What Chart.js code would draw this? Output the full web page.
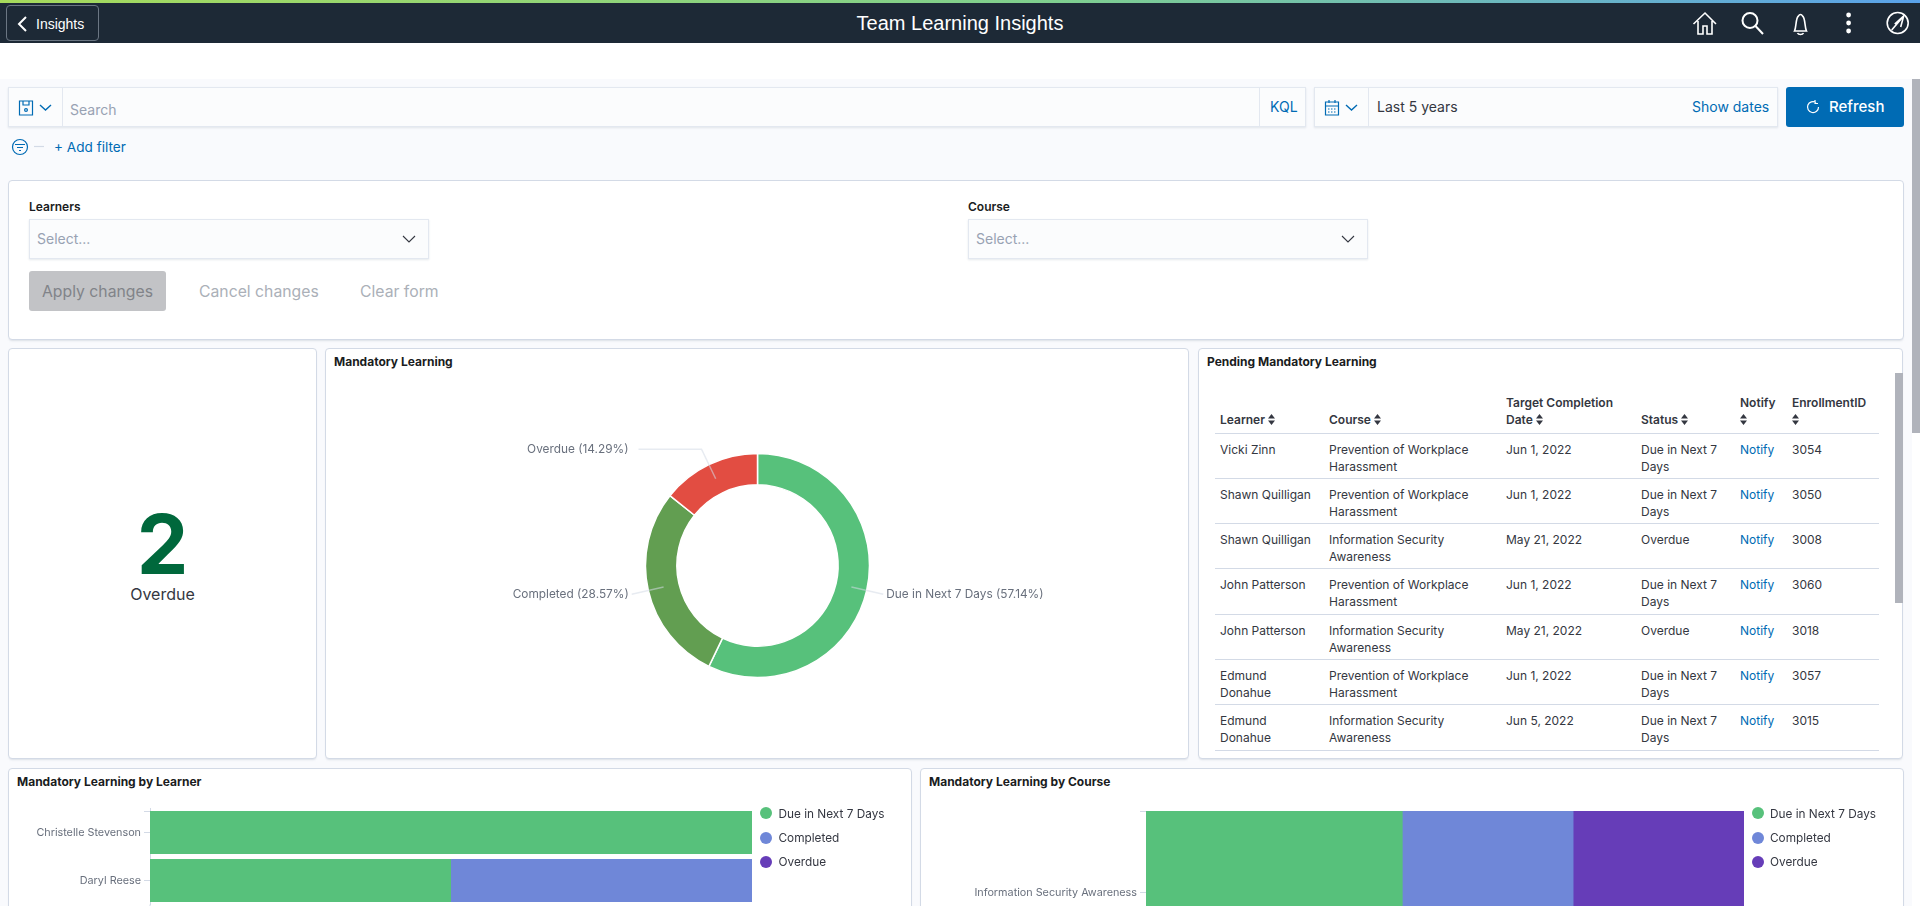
<!DOCTYPE html>
<html>
<head>
<meta charset="utf-8">
<title>Team Learning Insights</title>
<script src="https://cdn.jsdelivr.net/npm/chart.js@4/dist/chart.umd.min.js"></script>
<style>
  html, body { margin: 0; padding: 0; width: 1920px; height: 906px; overflow: hidden; background: #fff; }
  body { position: relative; font-family: Inter, "Noto Sans", sans-serif; color: #343741; font-size: 14px; }
  .abs { position: absolute; white-space: nowrap; }
  .box { position: absolute; box-sizing: border-box; }
  .panel { position: absolute; box-sizing: border-box; background: #fff; border: 1px solid #d3dae6; border-radius: 4px; box-shadow: 0 2px 2px -1px rgba(152,162,179,.3); }
  .field { position: absolute; box-sizing: border-box; background: #fbfcfd; border: 1px solid #e3e8f0; box-shadow: 0 1px 2px rgba(152,162,179,.25); }
  .title { position: absolute; font-size: 12px; font-weight: 700; color: #1a1c21; line-height: 16px; white-space: nowrap; }
  .ph { color: #98a2b3; }
  .link { color: #006bb4; }
  canvas { position: absolute; }
  #table { position: absolute; left: 1215px; top: 394px; width: 664px; border-collapse: collapse; table-layout: fixed; font-size: 12px; line-height: 17px; }
  #table th { text-align: left; font-weight: 600; vertical-align: bottom; padding: 0 8px 4.5px 5px; border-bottom: 1px solid #d3dae6; color: #343741; }
  #table td { vertical-align: top; padding: 7px 8px 3.3px 5px; border-bottom: 1px solid #d3dae6; color: #343741; }
  #table td.link { color: #006bb4; }
  .legend-dot { position: absolute; width: 12px; height: 12px; border-radius: 50%; }
  .legend-text { position: absolute; font-size: 11.8px; line-height: 16px; color: #343741; white-space: nowrap; }
</style>
</head>
<body>
<div class="box" style="left:0;top:79px;width:1912px;height:827px;background:#f9fafd"></div>
<div class="box" style="left:0;top:0;width:1920px;height:3px;background:linear-gradient(90deg,#a6da5c,#7fcf8f 55%,#5aa2ea)"></div>
<div class="box" style="left:0;top:3px;width:1920px;height:40px;background:#1d2936"></div>
<div class="box" style="left:6px;top:5px;width:93px;height:36px;border:1px solid #6b7683;border-radius:4px"></div>
<svg class="abs" style="left:17px;top:15px" width="12" height="18" viewBox="0 0 12 18"><path d="M9 2 L2 9 L9 16" fill="none" stroke="#fff" stroke-width="2"/></svg>
<div class="abs" style="left:36px;top:15px;font:14px 'Liberation Sans';color:#fff;line-height:18px">Insights</div>
<div class="abs" style="left:0;width:1920px;text-align:center;top:10px;font:20px 'Liberation Sans';color:#fff;line-height:26px">Team Learning Insights</div>
<svg class="abs" style="left:1690px;top:10px" width="230" height="30" viewBox="0 0 230 30" fill="none" stroke="#fff" stroke-width="1.6">
  <path d="M3.5 14 L15 3 L26 14 M8 11 V24 H13 V16 H17 V24 H22 V11"/>
  <circle cx="60" cy="10.5" r="7.5" stroke-width="2"/><path d="M65.5 16 L73 24" stroke-width="2"/>
  <path d="M104.5 21 C106.5 17 105.5 8 108.5 6 C109.5 4 111.5 4 112.5 6 C115.5 8 114.5 17 116.5 21 Z M107.5 23 C108.5 25 112.5 25 113.5 23"/>
  <circle cx="158.6" cy="5" r="2.4" fill="#fff" stroke="none"/><circle cx="158.6" cy="13" r="2.4" fill="#fff" stroke="none"/><circle cx="158.6" cy="21" r="2.4" fill="#fff" stroke="none"/>
  <circle cx="207.7" cy="13" r="10.5"/><path d="M201.7 20 L213.7 6 M204.7 14 L213.7 6 L210.7 17"/>
</svg>

<div class="box" style="left:1912px;top:79px;width:8px;height:354px;background:#b0b3bb"></div>

<!-- query bar -->
<div class="field" style="left:8px;top:87px;width:1298px;height:40px"></div>
<div class="box" style="left:62px;top:87px;width:1px;height:40px;background:#e3e8f0"></div>
<div class="box" style="left:1259px;top:87px;width:1px;height:40px;background:#e3e8f0"></div>
<svg class="abs" style="left:18px;top:99px" width="40" height="18" viewBox="0 0 40 18" fill="none" stroke="#006bb4" stroke-width="1.2">
  <path d="M1.5 2 H14.5 V16 H1.5 Z M5 2 V6 H11 V2"/><circle cx="8" cy="11" r="1.4"/><path d="M22 6 L27.5 11 L33 6" stroke-width="1.4"/>
</svg>
<div class="abs ph" style="left:70px;top:101px;line-height:18px">Search</div>
<div class="abs link" style="left:1270px;top:98px;line-height:18px">KQL</div>
<div class="field" style="left:1314px;top:87px;width:464px;height:40px"></div>
<div class="box" style="left:1368px;top:87px;width:1px;height:40px;background:#e3e8f0"></div>
<svg class="abs" style="left:1324px;top:99px" width="40" height="18" viewBox="0 0 40 18" fill="none" stroke="#006bb4" stroke-width="1.2">
  <path d="M1.5 3 H14.5 V16 H1.5 Z M1.5 7 H14.5 M5 1 V4 M11 1 V4"/><path d="M4 10 H12 M4 13 H12" stroke-dasharray="1.5 1.5"/><path d="M22 6 L27.5 11 L33 6" stroke-width="1.4"/>
</svg>
<div class="abs" style="left:1377px;top:98px;line-height:18px">Last 5 years</div>
<div class="abs link" style="left:1692px;top:98px;line-height:18px">Show dates</div>
<div class="box" style="left:1786px;top:87px;width:118px;height:40px;background:#006bb4;border-radius:3px"></div>
<svg class="abs" style="left:1805px;top:98px" width="16" height="18" viewBox="0 0 16 18" fill="none" stroke="#fff" stroke-width="1.2"><path d="M11 4.5 A5.5 5.5 0 1 0 13.5 9 M10 2 V5.5 H13"/></svg>
<div class="abs" style="left:1829px;top:98px;font-size:15px;font-weight:500;color:#fff;line-height:18px">Refresh</div>

<svg class="abs" style="left:11px;top:138px" width="40" height="18" viewBox="0 0 40 18" fill="none" stroke="#006bb4" stroke-width="1.2">
  <circle cx="9" cy="9" r="7.5"/><path d="M4 6.5 H14 M6 9.5 H12 M8 12.5 H10"/><path d="M23 8.5 H33" stroke="#d3dae6"/>
</svg>
<div class="abs link" style="left:54px;top:138px;line-height:18px;font-size:13.6px">+ Add filter</div>

<!-- form -->
<div class="panel" style="left:8px;top:180px;width:1896px;height:160px"></div>
<div class="abs" style="left:29px;top:199px;font-size:12px;font-weight:600;color:#1a1c21;line-height:16px">Learners</div>
<div class="field" style="left:29px;top:219px;width:400px;height:40px"></div>
<div class="abs ph" style="left:37px;top:230px;line-height:18px">Select...</div>
<svg class="abs" style="left:402px;top:233px" width="14" height="12" viewBox="0 0 14 12" fill="none" stroke="#343741" stroke-width="1.1"><path d="M1 3 L7 9 L13 3"/></svg>
<div class="abs" style="left:968px;top:199px;font-size:12px;font-weight:600;color:#1a1c21;line-height:16px">Course</div>
<div class="field" style="left:968px;top:219px;width:400px;height:40px"></div>
<div class="abs ph" style="left:976px;top:230px;line-height:18px">Select...</div>
<svg class="abs" style="left:1341px;top:233px" width="14" height="12" viewBox="0 0 14 12" fill="none" stroke="#343741" stroke-width="1.1"><path d="M1 3 L7 9 L13 3"/></svg>
<div class="box" style="left:29px;top:271px;width:137px;height:40px;background:#c2c3c6;border-radius:3px"></div>
<div class="abs" style="left:42px;top:282px;font-size:15.75px;color:#818389;line-height:20px">Apply changes</div>
<div class="abs" style="left:199px;top:282px;font-size:15.75px;color:#abb0b8;line-height:20px">Cancel changes</div>
<div class="abs" style="left:360px;top:282px;font-size:15.75px;color:#abb0b8;line-height:20px">Clear form</div>

<!-- overdue metric -->
<div class="panel" style="left:8px;top:348px;width:309px;height:411px"></div>
<div class="abs" style="left:8px;width:309px;text-align:center;top:492px;font-size:82px;font-weight:700;color:#00683c;line-height:106px">2</div>
<div class="abs" style="left:8px;width:309px;text-align:center;top:584px;font-size:16px;color:#343741;line-height:20px">Overdue</div>

<!-- donut -->
<div class="panel" style="left:325px;top:348px;width:864px;height:411px"></div>
<div class="title" style="left:334px;top:354px">Mandatory Learning</div>
<canvas id="donut" style="left:327px;top:350px;width:861px;height:408px"></canvas>

<!-- table -->
<div class="panel" style="left:1198px;top:348px;width:705px;height:411px"></div>
<div class="title" style="left:1207px;top:354px">Pending Mandatory Learning</div>
<div class="box" style="left:1895px;top:373px;width:8px;height:230px;background:#b0b3bb"></div>
<table id="table"></table>

<!-- bottom row -->
<div class="panel" style="left:8px;top:768px;width:904px;height:200px"></div>
<div class="title" style="left:17px;top:774px">Mandatory Learning by Learner</div>
<canvas id="byLearner" style="left:10px;top:795px;width:900px;height:119px"></canvas>
<div id="legendLearner"></div>

<div class="panel" style="left:920px;top:768px;width:984px;height:200px"></div>
<div class="title" style="left:929px;top:774px">Mandatory Learning by Course</div>
<canvas id="byCourse" style="left:922px;top:795px;width:981px;height:188px"></canvas>
<div id="legendCourse"></div>

<script>
const statuses = ["Due in Next 7 Days", "Completed", "Overdue"];
const donutValues = [4, 2, 1];
const donutPercents = ["57.14%", "28.57%", "14.29%"];
const donutColors = ["#57c17b", "#629e51", "#e24d42"];
const barColors = ["#57c17b", "#6f87d8", "#663db8"];

const learners = ["Christelle Stevenson", "Daryl Reese"];
const learnerDue = [100, 50];
const learnerCompleted = [0, 50];
const learnerOverdue = [0, 0];

const courses = ["Information Security Awareness"];
const courseDue = [42.86];
const courseCompleted = [28.57];
const courseOverdue = [28.57];

const tableHead = ["Learner", "Course", "Target Completion Date", "Status", "Notify", "EnrollmentID"];
const tableLearner = ["Vicki Zinn", "Shawn Quilligan", "Shawn Quilligan", "John Patterson", "John Patterson", "Edmund Donahue", "Edmund Donahue"];
const tableCourse = ["Prevention of Workplace Harassment", "Prevention of Workplace Harassment", "Information Security Awareness", "Prevention of Workplace Harassment", "Information Security Awareness", "Prevention of Workplace Harassment", "Information Security Awareness"];
const tableDate = ["Jun 1, 2022", "Jun 1, 2022", "May 21, 2022", "Jun 1, 2022", "May 21, 2022", "Jun 1, 2022", "Jun 5, 2022"];
const tableStatus = ["Due in Next 7 Days", "Due in Next 7 Days", "Overdue", "Due in Next 7 Days", "Overdue", "Due in Next 7 Days", "Due in Next 7 Days"];
const tableId = ["3054", "3050", "3008", "3060", "3018", "3057", "3015"];

// table
const colWidths = [109, 177, 135, 99, 52, 92];
const sortIcon = '<svg width="7" height="11" viewBox="0 0 7 11" style="vertical-align:-1px"><path d="M3.5 0 L7 4.5 H0 Z M3.5 11 L0 6.5 H7 Z" fill="#343741"/></svg>';
let html = "<colgroup>" + colWidths.map((w) => `<col style="width:${w}px">`).join("") + "</colgroup><tr>";
tableHead.forEach((h) => { html += `<th>${h} ${sortIcon}</th>`; });
html += "</tr>";
tableLearner.forEach((name, i) => {
  html += `<tr><td>${name}</td><td>${tableCourse[i]}</td><td>${tableDate[i]}</td><td>${tableStatus[i]}</td><td class="link">Notify</td><td>${tableId[i]}</td></tr>`;
});
document.getElementById("table").innerHTML = html;

// legends next to the bar charts
function buildLegend(id, dotX, textX) {
  const tops = [813, 837.5, 861.5];
  document.getElementById(id).innerHTML = statuses.map((s, i) =>
    `<div class="legend-dot" style="left:${dotX - 6}px;top:${tops[i] - 6}px;background:${barColors[i]}"></div>` +
    `<div class="legend-text" style="left:${textX}px;top:${tops[i] - 7.5}px">${s}</div>`
  ).join("");
}
buildLegend("legendLearner", 766, 778.5);
buildLegend("legendCourse", 1758, 1770);

Chart.defaults.font.family = "Inter";
Chart.defaults.animation = false;
Chart.defaults.responsive = false;

// leader lines and labels around the donut
const donutLabels = {
  id: "donutLabels",
  afterDatasetsDraw(chart) {
    const ctx = chart.ctx;
    const extra = [0, 0, 63];
    chart.getDatasetMeta(0).data.forEach((arc, i) => {
      const mid = (arc.startAngle + arc.endAngle) / 2;
      const rm = (arc.innerRadius + arc.outerRadius) / 2;
      const x1 = arc.x + Math.cos(mid) * rm, y1 = arc.y + Math.sin(mid) * rm;
      const x2 = arc.x + Math.cos(mid) * 129, y2 = arc.y + Math.sin(mid) * 129;
      const right = Math.cos(mid) > 0;
      const x3 = x2 + (right ? extra[i] : -extra[i]);
      ctx.save();
      ctx.strokeStyle = "rgba(211,218,230,.55)";
      ctx.lineWidth = 1.5;
      ctx.beginPath(); ctx.moveTo(x1, y1); ctx.lineTo(x2, y2); ctx.lineTo(x3, y2); ctx.stroke();
      ctx.fillStyle = "#69707d";
      ctx.font = "11.85px Inter";
      ctx.textBaseline = "middle";
      ctx.textAlign = right ? "left" : "right";
      const gap = extra[i] ? 10 : 3;
      ctx.fillText(`${statuses[i]} (${donutPercents[i]})`, x3 + (right ? gap : -gap), y2 + 0.5);
      ctx.restore();
    });
  },
};

new Chart(document.getElementById("donut"), {
  type: "doughnut",
  data: { labels: statuses, datasets: [{ data: donutValues, backgroundColor: donutColors, borderColor: "#fff", borderWidth: 1.5 }] },
  options: {
    radius: 112, cutout: "72%",
    layout: { padding: { top: 23 } },
    plugins: { legend: { display: false }, tooltip: { enabled: false } },
  },
  plugins: [donutLabels],
});

// small tick at the top end of the category axis, and the axis running on past the last bar
const axisEnds = {
  id: "axisEnds",
  afterDraw(chart) {
    const bar = chart.getDatasetMeta(0).data[0];
    const { left, bottom } = chart.chartArea;
    const c = chart.ctx;
    const tickY = bar.y - bar.height / 2 + 0.5;
    c.save();
    c.strokeStyle = "#d3dae6";
    c.beginPath();
    c.moveTo(left - 6, tickY); c.lineTo(left, tickY);
    c.moveTo(left, bottom); c.lineTo(left, chart.height);
    c.stroke();
    c.restore();
  },
};

function stackedBar(id, labels, due, completed, overdue, barPct, yWidth, padding) {
  const series = [due, completed, overdue];
  return new Chart(document.getElementById(id), {
    type: "bar",
    data: {
      labels,
      datasets: statuses.map((s, i) => ({ label: s, data: series[i], backgroundColor: barColors[i], barPercentage: barPct, categoryPercentage: 1 })),
    },
    options: {
      indexAxis: "y",
      layout: { padding },
      scales: {
        x: { stacked: true, min: 0, max: 100, display: false },
        y: {
          stacked: true,
          afterFit(axis) { axis.width = yWidth; },
          border: { color: "#d3dae6" },
          grid: { drawOnChartArea: false, offset: false, tickLength: 6, color: "#d3dae6" },
          ticks: { color: "#69707d", font: { size: 10.8 }, padding: 3 },
        },
      },
      plugins: { tooltip: { enabled: false }, legend: { display: false } },
    },
    plugins: [axisEnds],
  });
}

stackedBar("byLearner", learners, learnerDue, learnerCompleted, learnerOverdue, 43 / 48, 140, { top: 13.5, bottom: 2.5, left: 0, right: 158 });
stackedBar("byCourse", courses, courseDue, courseCompleted, courseOverdue, 1, 224, { top: 16, bottom: 0, left: 0, right: 159 });
</script>
</body>
</html>
